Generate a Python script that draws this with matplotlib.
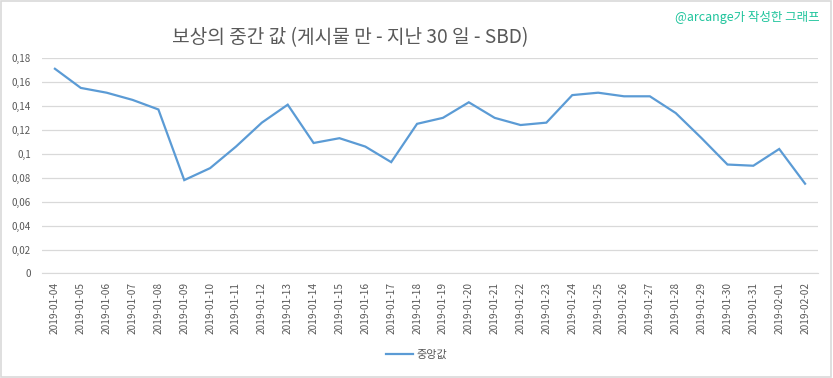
import matplotlib
matplotlib.use("Agg")
from matplotlib import pyplot as plt
from matplotlib.patches import Rectangle
from matplotlib.ticker import FuncFormatter, MultipleLocator

plt.rcParams['font.family'] = ['Noto Sans CJK KR', 'DejaVu Sans']

dates = ['2019-01-04', '2019-01-05', '2019-01-06', '2019-01-07', '2019-01-08',
         '2019-01-09', '2019-01-10', '2019-01-11', '2019-01-12', '2019-01-13',
         '2019-01-14', '2019-01-15', '2019-01-16', '2019-01-17', '2019-01-18',
         '2019-01-19', '2019-01-20', '2019-01-21', '2019-01-22', '2019-01-23',
         '2019-01-24', '2019-01-25', '2019-01-26', '2019-01-27', '2019-01-28',
         '2019-01-29', '2019-01-30', '2019-01-31', '2019-02-01', '2019-02-02']
median = [0.171, 0.155, 0.151, 0.145, 0.137, 0.078, 0.088, 0.106, 0.126, 0.141,
          0.109, 0.113, 0.106, 0.093, 0.125, 0.130, 0.143, 0.130, 0.124, 0.126,
          0.149, 0.151, 0.148, 0.148, 0.134, 0.113, 0.091, 0.090, 0.104, 0.075]

title = '보상의 중간 값 (게시물 만 - 지난 30 일 - SBD)'
series_name = '중앙값'
credit = '@arcange가 작성한 그래프'

grey = '#595959'
grid = '#d9d9d9'

fig = plt.figure(figsize=(8.33, 3.78), dpi=100)
ax = fig.add_axes([0.0504, 0.2765, 0.9316, 0.5701])

x = list(range(len(dates)))
ax.plot(x, median, color='#5b9bd5', lw=1.6, label=series_name, solid_joinstyle='miter')

ax.set_xlim(-0.5, len(dates) - 0.5)
ax.set_ylim(0, 0.18)
ax.yaxis.set_major_locator(MultipleLocator(0.02))
ax.yaxis.set_major_formatter(FuncFormatter(lambda v, p: ('%g' % round(v, 2)).replace('.', ',')))
ax.set_xticks(x)
ax.set_xticklabels(dates, rotation=90, fontsize=7.3, color=grey)
ax.tick_params(axis='y', labelsize=7, colors=grey, length=0, pad=8)
ax.tick_params(axis='x', length=0, pad=6)
ax.grid(axis='y', color=grid, lw=0.9)
ax.set_axisbelow(True)
for s in ['top', 'right', 'left']:
    ax.spines[s].set_visible(False)
ax.spines['bottom'].set_color(grid)

fig.text(0.42, 0.9, title, ha='center', va='center', fontsize=13.8, color=grey)
fig.text(0.984, 0.955, credit, ha='right', va='center', fontsize=9, color='#1fc49c')

fig.legend(loc='center', bbox_to_anchor=(0.5, 0.06), frameon=False, fontsize=8,
           handlelength=2.4, handletextpad=0.3, labelcolor=grey)

fig.patches.append(Rectangle((0.001, 0.002), 0.997, 0.995, transform=fig.transFigure,
                             fill=False, edgecolor=grid, lw=1.2))

plt.savefig('out.png', dpi=100)
